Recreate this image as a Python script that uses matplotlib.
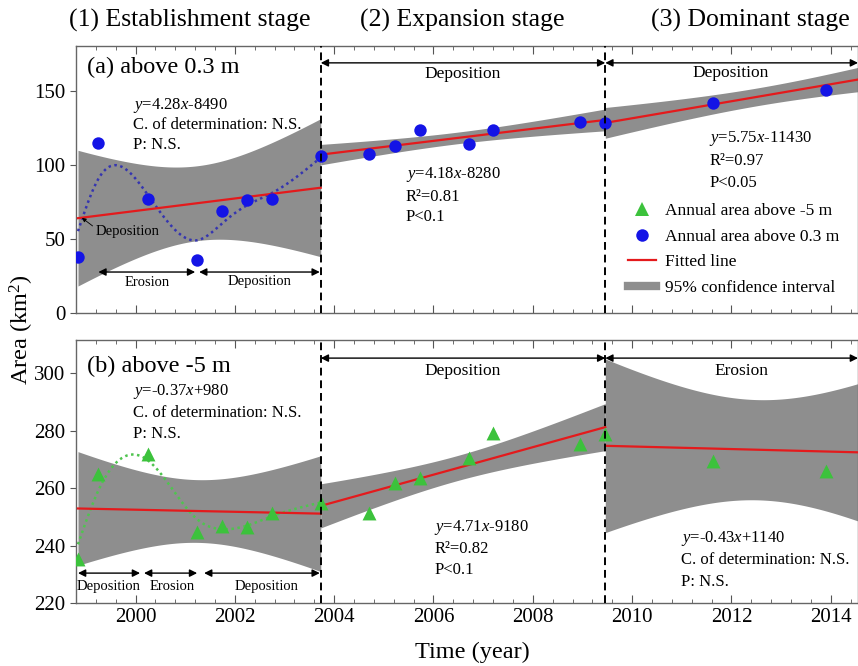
import numpy as np
import matplotlib
matplotlib.use("Agg")
import matplotlib.pyplot as plt
from matplotlib.lines import Line2D

plt.rcParams['font.family'] = ['Liberation Serif', 'DejaVu Serif']
plt.rcParams['mathtext.fontset'] = 'custom'
plt.rcParams['mathtext.rm'] = 'Liberation Serif'
plt.rcParams['mathtext.it'] = 'Liberation Serif:italic'

# survey dates and areas
years = [1998.84, 1999.25, 2000.25, 2001.24, 2001.74, 2002.24, 2002.74, 2003.73, 2004.71,
         2005.22, 2005.72, 2006.72, 2007.20, 2008.95, 2009.46, 2011.63, 2013.90]
area_03 = [37.9, 115.0, 77.0, 35.9, 69.0, 76.5, 77.1, 105.8, 107.6,
           113.0, 123.8, 114.3, 123.8, 129.2, 128.6, 142.0, 150.9]
area_m5 = [235.3, 264.9, 271.8, 244.7, 246.8, 246.4, 251.3, 254.8, 251.3,
           261.7, 263.5, 270.4, 279.1, 275.3, 278.8, 269.4, 265.9]
# one survey lies past the cropped right edge; estimated from the stage-3 fits
hidden_year = 2015.1
hidden_03 = 163.1
hidden_m5 = 279.2

stage_bounds = [2003.73, 2009.46]
stage_idx = [(0, 8), (7, 15), (14, 17)]
T95 = {1: 12.706, 2: 4.303, 3: 3.182, 4: 2.776, 5: 2.571, 6: 2.447}

stage_titles = ['(1) Establishment stage', '(2) Expansion stage', '(3) Dominant stage']

eq_top = [['$y$=4.28$x$-8490', 'C. of determination: N.S.', 'P: N.S.'],
          ['$y$=4.18$x$-8280', 'R\u00b2=0.81', 'P<0.1'],
          ['$y$=5.75$x$-11430', 'R\u00b2=0.97', 'P<0.05']]
eq_bot = [['$y$=-0.37$x$+980', 'C. of determination: N.S.', 'P: N.S.'],
          ['$y$=4.71$x$-9180', 'R\u00b2=0.82', 'P<0.1'],
          ['$y$=-0.43$x$+1140', 'C. of determination: N.S.', 'P: N.S.']]

BLUE = '#1414e6'
GREEN = '#3cc23c'
RED = '#e41a1c'
GREY = '#8e8e8e'


def fit_band(x, y, x0, x1):
    x = np.asarray(x); y = np.asarray(y)
    b, a = np.polyfit(x, y, 1)
    n = len(x)
    s = np.sqrt(np.sum((y - (a + b * x)) ** 2) / (n - 2))
    sxx = np.sum((x - x.mean()) ** 2)
    xx = np.linspace(x0, x1, 300)
    yy = a + b * xx
    hw = T95[n - 2] * s * np.sqrt(1.0 / n + (xx - x.mean()) ** 2 / sxx)
    return xx, yy, hw


def smooth_curve(x, y, lam, n=400):
    # penalised (smoothing-spline like) curve on a fine grid
    x = np.asarray(x); y = np.asarray(y)
    xx = np.linspace(x[0], x[-1], n)
    h = xx[1] - xx[0]
    W = np.zeros((len(x), n))
    for i, xi in enumerate(x):
        j = min(int((xi - xx[0]) / h), n - 2)
        t = (xi - xx[j]) / h
        W[i, j] = 1 - t
        W[i, j + 1] = t
    D = np.diff(np.eye(n), 2, axis=0)
    A = W.T @ W + lam / h ** 3 * D.T @ D
    return xx, np.linalg.solve(A, W.T @ y)


def draw_panel(ax, vals, hidden, color, marker, ms, dotcolor):
    x_all = list(years) + [hidden_year]
    y_all = list(vals) + [hidden]
    ends = [(years[0], stage_bounds[0]), (stage_bounds[0], stage_bounds[1]), (stage_bounds[1], hidden_year)]
    for k, (i0, i1) in enumerate(stage_idx):
        xs = x_all[i0:i1]
        ys = y_all[i0:i1]
        if k == 2:
            xs = xs + [hidden_year]
            ys = ys + [hidden]
        xx, yy, hw = fit_band(xs, ys, *ends[k])
        ax.fill_between(xx, yy - hw, yy + hw, color=GREY, lw=0, zorder=1)
        ax.plot(xx, yy, color=RED, lw=1.6, zorder=3)
    # smoothed trend through the establishment-stage surveys
    xx, ff = smooth_curve(years[:8], vals[:8], 0.035)
    ax.plot(xx, ff, color=dotcolor, lw=1.8, ls=(0, (1, 1.4)), zorder=2)
    ax.scatter(years, vals, s=ms, color=color, marker=marker, lw=0, zorder=4)
    for xb in stage_bounds:
        ax.axvline(xb, color='black', ls=(0, (4, 2.5)), lw=1.4, zorder=5)


def dbl_arrow(ax, x0, x1, y, label, ly, fs):
    ax.annotate('', xy=(x1, y), xytext=(x0, y),
                arrowprops=dict(arrowstyle='<|-|>', color='black', lw=1.0,
                                mutation_scale=11, shrinkA=0, shrinkB=0), annotation_clip=False)
    if label:
        ax.text((x0 + x1) / 2, ly, label, ha='center', va='center', fontsize=fs)


fig = plt.figure(figsize=(8.58, 6.66), dpi=100)
ax1 = fig.add_axes([76 / 858, 1 - 313 / 666, 782 / 858, 267 / 666])
ax2 = fig.add_axes([76 / 858, 1 - 603 / 666, 782 / 858, 263 / 666])

draw_panel(ax1, area_03, hidden_03, BLUE, 'o', 80, '#3535b0')
draw_panel(ax2, area_m5, hidden_m5, GREEN, '^', 100, '#4fc44f')

for ax in (ax1, ax2):
    ax.set_xlim(1998.8, 2014.55)
    ax.set_xticks(np.arange(2000, 2015, 2))
    ax.set_xticks(np.arange(1998.8, 2014.6, 0.4), minor=True)
    ax.tick_params(axis='x', which='both', direction='in', top=True, colors='#555555', labelcolor='black', labelsize=15)
    ax.tick_params(axis='x', which='major', length=6)
    ax.tick_params(axis='x', which='minor', length=3)
    ax.tick_params(axis='y', direction='out', length=4, colors='#555555', labelcolor='black', labelsize=15)
    for sp in ax.spines.values():
        sp.set_color('#666666')
        sp.set_linewidth(1.0)

ax1.set_ylim(0, 180.5)
ax1.set_yticks([0, 50, 100, 150])
ax1.tick_params(axis='x', labelbottom=False)
ax2.set_ylim(220, 311.5)
ax2.set_yticks([220, 240, 260, 280, 300])

# stage headers and axis labels
for xc, title in zip([190, 462, 750], stage_titles):
    fig.text(xc / 858, 1 - 20 / 666, title, ha='center', va='center', fontsize=18.5)
fig.text(22 / 858, 1 - 330 / 666, 'Area (km$^2$)', rotation=90, ha='center', va='center', fontsize=17.5)
fig.text(472 / 858, 1 - 652 / 666, 'Time (year)', ha='center', va='center', fontsize=17.5)

ax1.text(0.014, 0.918, '(a) above 0.3 m', transform=ax1.transAxes, ha='left', va='center', fontsize=17.5)
ax2.text(0.014, 0.901, '(b) above -5 m', transform=ax2.transAxes, ha='left', va='center', fontsize=17.5)

# regression statistics
top_pos = [(1999.95, [140.0, 127.2, 113.7]), (2005.44, [93.4, 78.5, 65.0]), (2011.55, [117.7, 102.8, 88.0])]
bot_pos = [(1999.95, [293.7, 286.1, 278.8]), (2006.02, [246.1, 238.8, 231.5]), (2010.98, [242.6, 235.0, 227.3])]
for ax, eqs, pos in [(ax1, eq_top, top_pos), (ax2, eq_bot, bot_pos)]:
    for lines, (x0, ys) in zip(eqs, pos):
        for s, yv in zip(lines, ys):
            ax.text(x0, yv, s, ha='left', va='center', fontsize=12)

# erosion / deposition arrows
dbl_arrow(ax1, stage_bounds[0], stage_bounds[1], 169.1, 'Deposition', 161.7, 12.5)
dbl_arrow(ax1, stage_bounds[1], 2014.55, 169.1, 'Deposition', 162.4, 12.5)
ax1.texts[-1].set_x(2011.99)
dbl_arrow(ax1, 1999.25, 2001.2, 27.7, 'Erosion', 20.5, 10.5)
dbl_arrow(ax1, 2001.28, 2003.71, 27.7, 'Deposition', 21.0, 10.5)
ax1.annotate('Deposition', xy=(1998.92, 64.3), xytext=(1999.19, 54.8), ha='left', va='center', fontsize=10.5,
             arrowprops=dict(arrowstyle='-|>', color='black', lw=0.6, mutation_scale=6,
                             relpos=(0, 0.8), shrinkA=0, shrinkB=0))

dbl_arrow(ax2, stage_bounds[0], stage_bounds[1], 305.2, 'Deposition', 300.7, 12.5)
dbl_arrow(ax2, stage_bounds[1], 2014.55, 305.2, 'Erosion', 300.7, 12.5)
ax2.texts[-1].set_x(2012.21)
dbl_arrow(ax2, 1998.84, 2000.09, 230.4, 'Deposition', 225.6, 10.5)
ax2.texts[-1].set_x(1999.45)
dbl_arrow(ax2, 2000.17, 2001.24, 230.4, 'Erosion', 225.6, 10.5)
ax2.texts[-1].set_x(2000.73)
dbl_arrow(ax2, 2001.38, 2003.71, 230.4, 'Deposition', 225.6, 10.5)
ax2.texts[-1].set_x(2002.64)

handles = [Line2D([], [], ls='none', marker='^', ms=10, color=GREEN, mew=0),
           Line2D([], [], ls='none', marker='o', ms=9, color=BLUE, mew=0),
           Line2D([], [], color=RED, lw=1.6),
           Line2D([], [], color=GREY, lw=6)]
labels = ['Annual area above -5 m', 'Annual area above 0.3 m', 'Fitted line', '95% confidence interval']
ax1.legend(handles, labels, loc='upper left', bbox_to_anchor=(0.695, 0.445), frameon=False,
           fontsize=12.5, handlelength=1.6, handletextpad=0.5, labelspacing=0.55, borderpad=0)

fig.savefig('out.png', dpi=100)
